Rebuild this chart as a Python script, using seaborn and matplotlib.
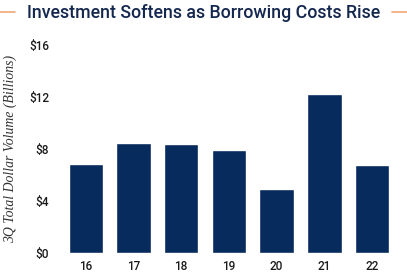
import matplotlib
matplotlib.use("Agg")
import matplotlib.pyplot as plt
import seaborn as sns
import pandas as pd

years = ["16", "17", "18", "19", "20", "21", "22"]
volume = [6.85, 8.5, 8.4, 7.9, 4.95, 12.2, 6.8]
yticks = [0, 4, 8, 12, 16]
ytick_labels = ["$0", "$4", "$8", "$12", "$16"]

df = pd.DataFrame({"year": years, "volume": volume})

sns.set_theme(style="white")
plt.rcParams['font.family'] = ['Roboto', 'DejaVu Sans']

fig = plt.figure(figsize=(4.07, 2.73), dpi=100)
ax = fig.add_axes([0.152, 0.073, 0.821, 0.762])
sns.barplot(data=df, x="year", y="volume", color="#062b5c", saturation=1,
            width=0.72, ax=ax)
ax.set_ylim(0, 16)
ax.set_xlim(-0.5, 6.5)
ax.set_yticks(yticks)
ax.set_yticklabels(ytick_labels)
ax.tick_params(axis='both', length=0, labelsize=8.5, colors="#1a1a1a", pad=9)
ax.tick_params(axis='x', pad=5)
for lab in ax.get_xticklabels() + ax.get_yticklabels():
    lab.set_fontweight("medium")
for s in ax.spines.values():
    s.set_visible(False)
ax.set_xlabel("")
ax.set_ylabel("3Q Total Dollar Volume (Billions)", family="Liberation Serif",
              style="italic", fontsize=9.9, color="#333333", labelpad=9)

fig.text(0.5, 0.952, "Investment Softens as Borrowing Costs Rise", ha="center",
         va="center", fontsize=12.8, color="#14274e", fontweight="medium")
fig.add_artist(plt.Line2D([0.0, 0.037], [0.955, 0.955], color="#f0a878", lw=1.2))
fig.add_artist(plt.Line2D([0.963, 1.0], [0.955, 0.955], color="#f0a878", lw=1.2))

fig.savefig("out.png", dpi=100)
